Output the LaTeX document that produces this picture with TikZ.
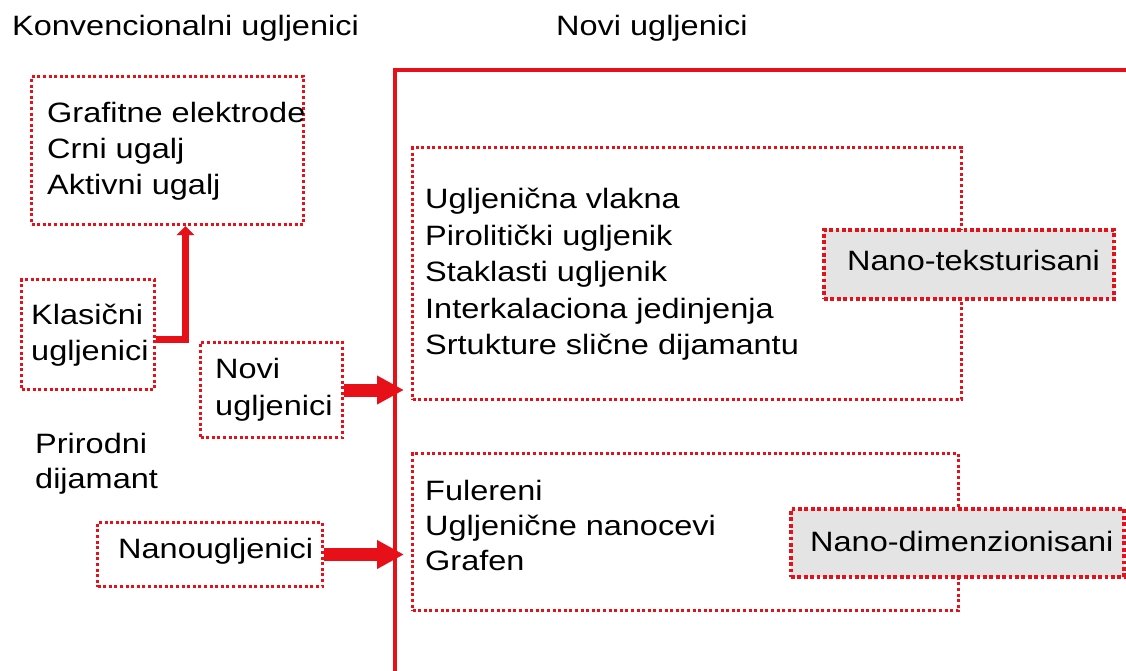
\documentclass[tikz,border=0pt]{standalone}
\usepackage{fontspec}
\setmainfont{Liberation Sans}[FakeStretch=1.16]
\usetikzlibrary{arrows.meta}
\definecolor{rd}{RGB}{232,16,24}
\definecolor{gr}{RGB}{228,228,228}
\begin{document}
\begin{tikzpicture}[x=1pt,y=-1pt,
  txt/.style={inner sep=0pt, anchor=base west, font=\fontsize{28}{34}\selectfont},
  dotbox/.style={draw=rd, line width=3pt, dash pattern=on 3pt off 2.6pt, anchor=north west, inner sep=0pt},
  nanobox/.style={dotbox, fill=gr, line width=3.8pt, dash pattern=on 3.8pt off 2.6pt},
  blockarrow/.style={draw=rd, line width=13pt, -{Triangle[length=27pt,width=27pt]}, shorten >=7pt}]
\useasboundingbox (0,0) rectangle (1126,670);
\fill[white] (0,0) rectangle (1126,670);

% solid frame of the new carbons
\node[draw=rd, line width=3.5pt, anchor=north west, inner sep=0pt,
      minimum width=760pt, minimum height=640pt] (frame) at (393,68) {};

% dotted boxes
\node[dotbox, minimum width=272pt, minimum height=148pt] (graf) at (30,75) {};
\node[dotbox, minimum width=133pt, minimum height=110pt] (klas) at (20,278) {};
\node[dotbox, minimum width=142pt, minimum height=95pt] (novi) at (199,341) {};
\node[dotbox, minimum width=225pt, minimum height=64pt] (nanou) at (96,521) {};
\node[dotbox, minimum width=549pt, minimum height=252pt] (big1) at (411,146) {};
\node[dotbox, minimum width=546pt, minimum height=157pt] (big2) at (411,452) {};
\node[nanobox, minimum width=290pt, minimum height=69pt] (ntex) at (822,228) {};
\node[nanobox, minimum width=333pt, minimum height=68pt] (ndim) at (789,507) {};

% titles
\node[txt] (t1) at (12,35) {Konvencionalni ugljenici};
\node[txt] (t2) at (556,35) {Novi ugljenici};

% conventional
\node[txt] (g1) at (47,122) {Grafitne elektrode};
\node[txt] (g2) at (47,158) {Crni ugalj};
\node[txt] (g3) at (47,194) {Aktivni ugalj};

\node[txt] (k1) at (31,324) {Klasični};
\node[txt] (k2) at (31,360) {ugljenici};

\node[txt] (n1) at (215,378) {Novi};
\node[txt] (n2) at (215,415) {ugljenici};

\node[txt] (p1) at (35,453) {Prirodni};
\node[txt] (p2) at (35,488) {dijamant};

\node[txt] (nu) at (118,558) {Nanougljenici};

% new carbons
\node[txt] (u1) at (425,208) {Ugljenična vlakna};
\node[txt] (u2) at (425,245) {Pirolitički ugljenik};
\node[txt] (u3) at (425,281) {Staklasti ugljenik};
\node[txt] (u4) at (425,318) {Interkalaciona jedinjenja};
\node[txt] (u5) at (425,354) {Srtukture slične dijamantu};

\node[txt] (f1) at (425,500) {Fulereni};
\node[txt] (f2) at (425,535) {Ugljenične nanocevi};
\node[txt] (f3) at (425,570) {Grafen};

\node[txt] (nt) at (847,270) {Nano-teksturisani};
\node[txt] (nd) at (810,551) {Nano-dimenzionisani};

% connectors
\draw[rd, line width=7.5pt, -{Triangle[length=9pt,width=17pt]}]
  ([yshift=-5pt]klas.east) -| ([xshift=18pt]graf.south);
\draw[blockarrow] (novi.east) -- (novi.east -| big1.west);
\draw[blockarrow] (nanou.east) -- (nanou.east -| big1.west);
\end{tikzpicture}
\end{document}
